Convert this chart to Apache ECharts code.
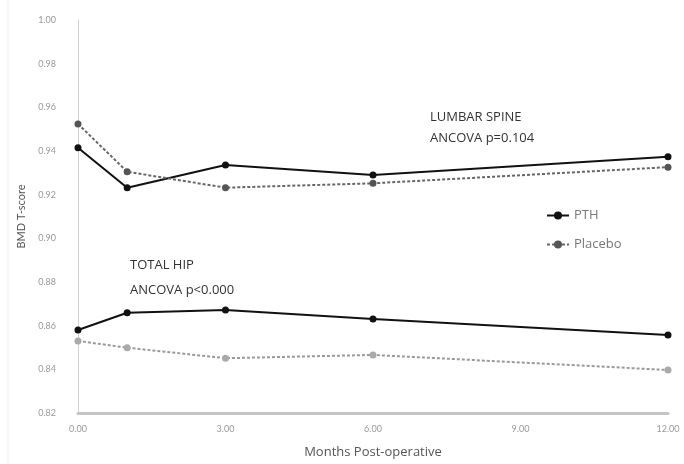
<!DOCTYPE html>
<html>
<head>
<meta charset="utf-8">
<script src="https://cdn.jsdelivr.net/npm/echarts@6/dist/echarts.min.js"></script>
<style>
  html, body { margin: 0; padding: 0; background: #fff; }
  #chart { width: 684px; height: 464px; }
</style>
</head>
<body>
<div id="chart"></div>
<script>
// Months after surgery at which BMD was measured
const months = [0, 1, 3, 6, 12];

// Lumbar spine
const pthSpine = [0.9415, 0.9232, 0.9336, 0.9290, 0.9374];
const placeboSpine = [0.9524, 0.9305, 0.9232, 0.9252, 0.9326];

// Total hip
const pthHip = [0.8580, 0.8659, 0.8672, 0.8631, 0.8557];
const placeboHip = [0.8530, 0.8499, 0.8451, 0.8466, 0.8397];

const xTicks = [0, 3, 6, 9, 12];
const yMin = 0.82, yMax = 1.00, yStep = 0.02;

const FONT = 'Lato, "Open Sans", sans-serif';
const NOTE_FONT = '"Open Sans", Lato, sans-serif';

function pairs(vals) {
  return months.map((m, i) => [m, vals[i]]);
}

const chart = echarts.init(document.getElementById('chart'));

const solid = (color) => ({
  type: 'line',
  symbol: 'circle',
  symbolSize: 7,
  lineStyle: { color: color, width: 2 },
  itemStyle: { color: color },
  emphasis: { disabled: true }
});
const dotted = (color, markColor) => ({
  type: 'line',
  symbol: 'circle',
  symbolSize: 7,
  lineStyle: { color: color, width: 2, type: [3, 2] },
  itemStyle: { color: markColor },
  emphasis: { disabled: true }
});

chart.setOption({
  animation: false,
  backgroundColor: '#fff',
  textStyle: { fontFamily: FONT },
  grid: { left: 78, right: 16, top: 20, bottom: 51 },
  legend: {
    orient: 'vertical',
    left: 541,
    top: 204,
    itemWidth: 22,
    itemHeight: 10,
    itemGap: 16,
    textStyle: { fontFamily: NOTE_FONT, fontSize: 13, color: '#777' },
    data: ['PTH', 'Placebo']
  },
  xAxis: {
    type: 'value',
    min: 0,
    max: xTicks[xTicks.length - 1],
    interval: 3,
    name: 'Months Post-operative',
    nameLocation: 'middle',
    nameGap: 33,
    nameTextStyle: { fontFamily: NOTE_FONT, fontSize: 13, color: '#555' },
    axisLine: { show: true, onZero: false, lineStyle: { color: '#c4c4c4', width: 3 } },
    axisTick: { show: false },
    splitLine: { show: false },
    axisLabel: {
      fontFamily: FONT, fontSize: 9, color: '#999', margin: 12,
      formatter: (v) => v.toFixed(2)
    }
  },
  yAxis: {
    type: 'value',
    min: yMin,
    max: yMax,
    interval: yStep,
    name: 'BMD T-score',
    nameLocation: 'middle',
    nameRotate: 90,
    nameGap: 46,
    nameTextStyle: { fontFamily: FONT, fontSize: 11, color: '#555' },
    axisLine: { show: true, lineStyle: { color: '#d0d0d0', width: 1 } },
    axisTick: { show: false },
    splitLine: { show: false },
    axisLabel: {
      fontFamily: FONT, fontSize: 9, color: '#999', margin: 22,
      formatter: (v) => v.toFixed(2)
    }
  },
  graphic: [
    {
      type: 'line',
      shape: { x1: 8, y1: 0, x2: 8, y2: 464 },
      style: { stroke: '#eeeeee', lineWidth: 1 },
      silent: true
    },
    {
      type: 'text', left: 430, top: 107,
      style: { text: 'LUMBAR SPINE\nANCOVA p=0.104', fill: '#333', font: '13px ' + NOTE_FONT, lineHeight: 21 }
    },
    {
      type: 'text', left: 130, top: 253,
      style: { text: 'TOTAL HIP\nANCOVA p<0.000', fill: '#333', font: '13px ' + NOTE_FONT, lineHeight: 25 }
    }
  ],
  series: [
    Object.assign(solid('#111'), { name: 'PTH', data: pairs(pthSpine) }),
    Object.assign(dotted('#666', '#555'), { name: 'Placebo', data: pairs(placeboSpine) }),
    Object.assign(solid('#111'), { name: 'PTH', data: pairs(pthHip) }),
    Object.assign(dotted('#999', '#aaa'), { name: 'Placebo', data: pairs(placeboHip) })
  ]
});
</script>
</body>
</html>
